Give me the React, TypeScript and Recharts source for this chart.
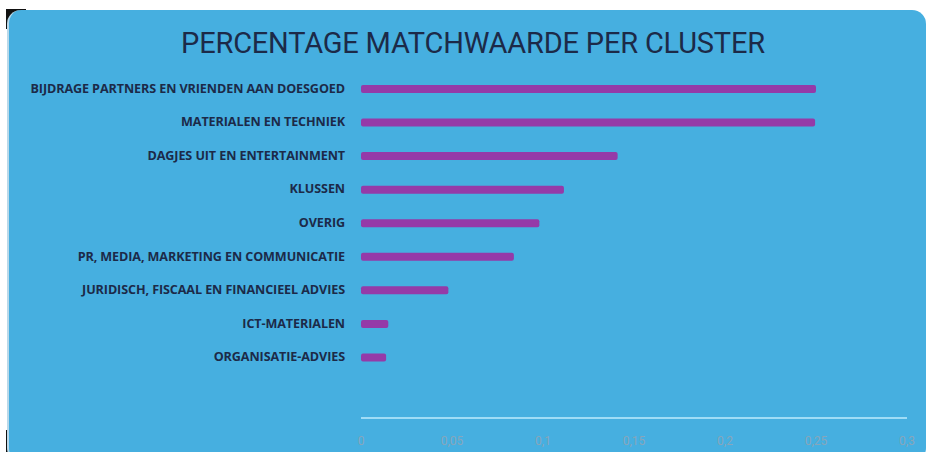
import { BarChart, Bar, XAxis, YAxis } from "recharts"

const categories = [
  "BIJDRAGE PARTNERS EN VRIENDEN AAN DOESGOED",
  "MATERIALEN EN TECHNIEK",
  "DAGJES UIT EN ENTERTAINMENT",
  "KLUSSEN",
  "OVERIG",
  "PR, MEDIA, MARKETING EN COMMUNICATIE",
  "JURIDISCH, FISCAAL EN FINANCIEEL ADVIES",
  "ICT-MATERIALEN",
  "ORGANISATIE-ADVIES",
]

const matchValues = [0.25, 0.2495, 0.141, 0.1115, 0.098, 0.084, 0.048, 0.015, 0.0138]

const xTicks = [0, 0.05, 0.1, 0.15, 0.2, 0.25, 0.3]

const data = categories.map((name, i) => ({ name, value: matchValues[i] }))

const formatTick = (v: number) => String(v).replace(".", ",")

// single-line category label (the default tick wraps long text)
const CategoryTick = ({ x, y, payload }: any) => (
  <text
    x={x}
    y={y}
    dy={4}
    textAnchor="end"
    fill="#1c2a48"
    fontSize={12.6}
    fontWeight={700}
    fontFamily="'Open Sans', sans-serif"
    letterSpacing={-0.1}
  >
    {payload.value}
  </text>
)

export default function App() {
  return (
    <div
      style={{
        position: "absolute",
        left: 0,
        top: 0,
        width: 928,
        height: 452,
        background: "#ffffff",
        overflow: "hidden",
      }}
    >
      {/* dark corners behind the rounded card */}
      <div style={{ position: "absolute", left: 6, top: 9, width: 20, height: 20, background: "#111" }} />
      <div style={{ position: "absolute", left: 6, top: 430, width: 20, height: 22, background: "#111" }} />
      <div
        style={{
          position: "absolute",
          left: 7,
          top: 10,
          width: 919,
          height: 452,
          background: "#46afe0",
          borderRadius: 14,
          borderLeft: "2px solid #b9d9ea",
          boxSizing: "border-box",
        }}
      />
      <div
        style={{
          position: "absolute",
          left: 0,
          top: 26,
          width: 946,
          textAlign: "center",
          fontFamily: "Roboto, sans-serif",
          fontSize: 29,
          color: "#1c2a48",
          letterSpacing: -0.2,
        }}
      >
        PERCENTAGE MATCHWAARDE PER CLUSTER
      </div>
      <div style={{ position: "absolute", left: 0, top: 0 }}>
        <BarChart
          width={928}
          height={452}
          data={data}
          layout="vertical"
          margin={{ top: 72, right: 21, bottom: 4, left: 0 }}
        >
          <XAxis
            type="number"
            domain={[0, 0.3]}
            ticks={xTicks}
            tickFormatter={formatTick}
            axisLine={{ stroke: "#9fdcf6", strokeWidth: 2 }}
            tickLine={false}
            tick={{ fill: "#86a6bb", fontSize: 12, fontFamily: "Roboto, sans-serif" }}
            tickMargin={12}
            height={30}
            interval={0}
          />
          <YAxis
            type="category"
            dataKey="name"
            width={361}
            axisLine={false}
            tickLine={false}
            tickSize={0}
            tickMargin={16}
            padding={{ top: 0, bottom: 44 }}
            interval={0}
            tick={<CategoryTick />}
          />
          <Bar dataKey="value" fill="#953aa8" barSize={8} radius={2} isAnimationActive={false} />
        </BarChart>
      </div>
    </div>
  )
}
